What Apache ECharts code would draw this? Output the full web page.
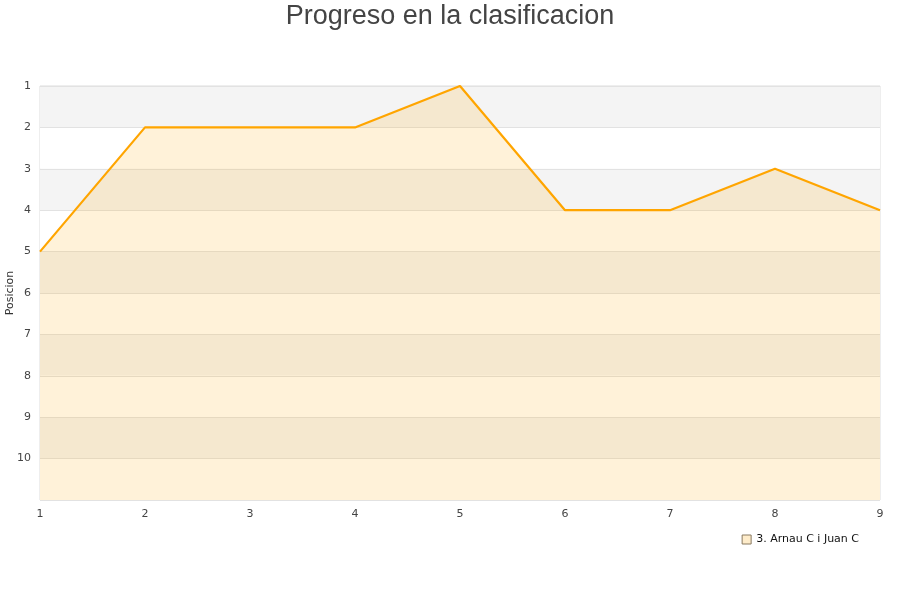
<!DOCTYPE html>
<html><head><meta charset="utf-8">
<script src="https://cdn.jsdelivr.net/npm/echarts@6/dist/echarts.min.js"></script>
<style>html,body{margin:0;padding:0;background:#fff}#c{width:900px;height:600px}</style>
</head><body><div id="c"></div>
<script>
const jornadas = [1, 2, 3, 4, 5, 6, 7, 8, 9];
const posiciones = [5, 2, 2, 2, 1, 4, 4, 3, 4];
const seriesName = '3. Arnau C i Juan C';
const yTicks = [1, 2, 3, 4, 5, 6, 7, 8, 9, 10];

const chart = echarts.init(document.getElementById('c'));
chart.setOption({
  animation: false,
  backgroundColor: '#fff',
  title: {
    text: 'Progreso en la clasificacion',
    left: 'center', top: -2,
    textStyle: { fontSize: 27, fontWeight: 'normal', color: '#444', fontFamily: 'Liberation Sans' }
  },
  legend: {
    right: 36, top: 529,
    itemWidth: 9, itemHeight: 9, itemGap: 8,
    icon: 'rect',
    textStyle: { fontSize: 11, color: '#111', fontFamily: 'DejaVu Sans' },
    data: [{ name: seriesName, itemStyle: { color: '#feecca', borderColor: '#8a7a60', borderWidth: 1 } }]
  },
  grid: { left: 40, right: 20, top: 86, bottom: 100, show: true, borderColor: '#ddd', borderWidth: 1, outerBoundsMode: 'none', containLabel: false },
  xAxis: {
    type: 'value', min: 1, max: 9, interval: 1,
    axisLine: { show: false }, axisTick: { show: false },
    splitLine: { show: false },
    axisLabel: { fontSize: 11, color: '#444', margin: 9, fontFamily: 'DejaVu Sans' }
  },
  yAxis: {
    type: 'value', inverse: true, min: 1, max: 11, interval: 1,
    name: 'Posicion', nameLocation: 'middle', nameGap: 24, nameMoveOverlap: false,
    nameTextStyle: { fontSize: 11, color: '#333', fontFamily: 'DejaVu Sans' },
    axisLine: { show: false }, axisTick: { show: false },
    axisLabel: { fontSize: 11, color: '#444', margin: 9, fontFamily: 'DejaVu Sans',
      formatter: v => yTicks.includes(v) ? String(v) : '' },
    splitLine: { show: true, lineStyle: { color: '#e2e2e2' } },
    splitArea: { show: true, areaStyle: { color: ['#f4f4f4', '#ffffff'] } }
  },
  series: [{
    name: seriesName, type: 'line',
    data: jornadas.map((j, i) => [j, posiciones[i]]),
    symbol: 'none',
    lineStyle: { color: '#ffa500', width: 2.2 },
    itemStyle: { color: '#ffa500' },
    areaStyle: { color: 'rgba(255,165,0,0.21)', origin: 'end' }
  }]
});
</script></body></html>
